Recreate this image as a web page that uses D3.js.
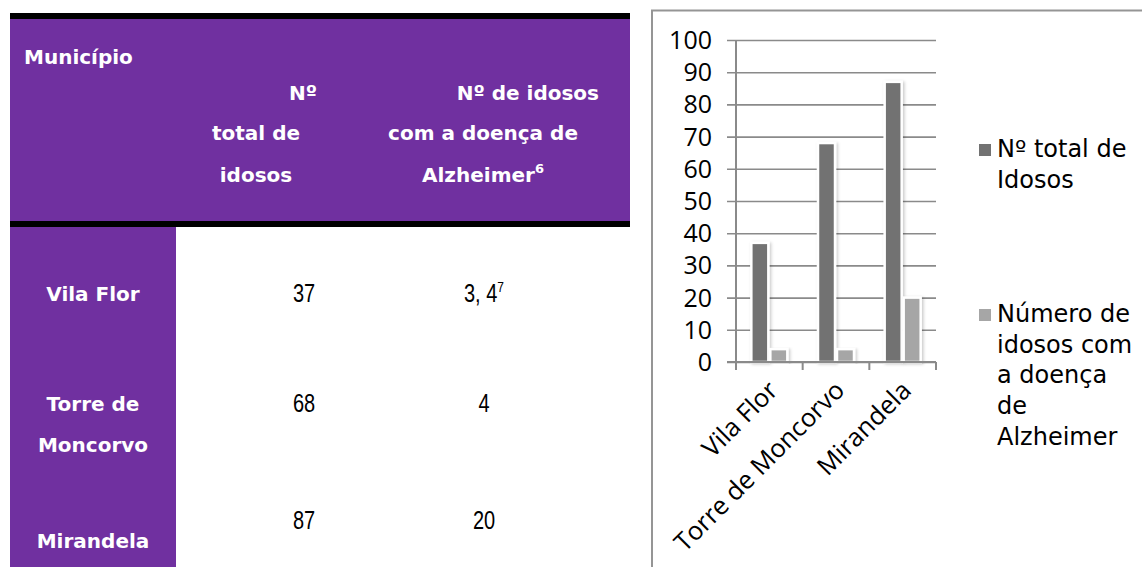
<!DOCTYPE html>
<html>
<head>
<meta charset="utf-8">
<script src="https://cdn.jsdelivr.net/npm/d3@7"></script>
<style>
  html, body { margin: 0; padding: 0; background: #fff; }
  svg { display: block; }
</style>
</head>
<body>
<svg id="page" width="1142" height="567"></svg>
<script>
// Municipalities and counts of elderly people
const municipios = ["Vila Flor", "Torre de Moncorvo", "Mirandela"];
const municipioLines = [["Vila Flor"], ["Torre de", "Moncorvo"], ["Mirandela"]];
const totalIdosos = [37, 68, 87];
const idososAlzheimer = [4, 4, 20];
const alzheimerText = ["3, 4", "4", "20"];
const alzheimerNote = ["7", "", ""];
const seriesNames = ["Nº total de Idosos", "Número de idosos com a doença de Alzheimer"];
const legendLines = [["Nº total de", "Idosos"], ["Número de", "idosos com", "a doença", "de", "Alzheimer"]];
const yTicks = [0, 10, 20, 30, 40, 50, 60, 70, 80, 90, 100];

const svg = d3.select("#page");
const PURPLE = "#7030a0";
const headFont = "'DejaVu Sans', Verdana, sans-serif";
const numFont = "'Liberation Sans', Arial, sans-serif";
const chartFont = "'Open Sans', 'Noto Sans', sans-serif";

// ---------- Table ----------
const table = svg.append("g");
table.append("rect").attr("x", 10).attr("y", 13).attr("width", 620).attr("height", 6).attr("fill", "#000");
table.append("rect").attr("x", 10).attr("y", 19).attr("width", 620).attr("height", 202).attr("fill", PURPLE);
table.append("rect").attr("x", 10).attr("y", 221).attr("width", 620).attr("height", 6).attr("fill", "#000");
table.append("rect").attr("x", 10).attr("y", 227).attr("width", 166).attr("height", 340).attr("fill", PURPLE);

const head = table.append("g")
  .attr("font-family", headFont).attr("font-weight", "bold")
  .attr("font-size", 20).attr("fill", "#fff");
head.append("text").attr("x", 24).attr("y", 64).text("Município");
head.append("text").attr("x", 317).attr("y", 100).attr("text-anchor", "end").text("Nº");
head.append("text").attr("x", 256).attr("y", 140).attr("text-anchor", "middle").text("total de");
head.append("text").attr("x", 256).attr("y", 182).attr("text-anchor", "middle").text("idosos");
head.append("text").attr("x", 599).attr("y", 100).attr("text-anchor", "end").text("Nº de idosos");
head.append("text").attr("x", 483).attr("y", 140).attr("text-anchor", "middle").text("com a doença de");
const alzHead = head.append("text").attr("x", 422).attr("y", 182);
alzHead.append("tspan").text("Alzheimer");
alzHead.append("tspan").attr("dy", -9).attr("font-size", 13).text("6");

// body rows: name lines and value baselines
const rowNameY = [[301], [411, 452], [548]];
const rowValueY = [302, 412, 529];

const names = table.append("g")
  .attr("font-family", headFont).attr("font-weight", "bold")
  .attr("font-size", 20).attr("fill", "#fff").attr("text-anchor", "middle");
municipioLines.forEach((lines, i) => {
  lines.forEach((ln, j) => {
    names.append("text").attr("x", 93).attr("y", rowNameY[i][j]).text(ln);
  });
});

// narrow numerals in the body cells
const vals = table.append("g")
  .attr("font-family", numFont).attr("font-size", 25).attr("fill", "#000");
totalIdosos.forEach((v, i) => {
  vals.append("text").attr("transform", `translate(304,${rowValueY[i]}) scale(0.8,1)`)
    .attr("text-anchor", "middle").text(v);
});
alzheimerText.forEach((t, i) => {
  const tx = vals.append("text").attr("transform", `translate(484,${rowValueY[i]}) scale(0.8,1)`)
    .attr("text-anchor", "middle");
  tx.append("tspan").text(t);
  if (alzheimerNote[i]) tx.append("tspan").attr("dy", -10).attr("font-size", 15).text(alzheimerNote[i]);
});

// ---------- Chart ----------
const chart = svg.append("g");
// chart area frame
chart.append("path")
  .attr("d", "M652,567 V10.5 H1142")
  .attr("fill", "none").attr("stroke", "#959595").attr("stroke-width", 2);

const plot = { left: 736, right: 936, top: 40, bottom: 362 };
const y = d3.scaleLinear().domain([0, 100]).range([plot.bottom, plot.top]);
const x0 = d3.scaleBand().domain(municipios).range([plot.left, plot.right]).padding(0);
const x1 = d3.scaleBand().domain(seriesNames).range([0, x0.bandwidth()])
  .paddingInner(0.105).paddingOuter(0.807);
const colors = d3.scaleOrdinal().domain(seriesNames).range(["#727272", "#a6a6a6"]);

// gridlines with left tick stubs
const yAxis = d3.axisLeft(y).tickValues(yTicks)
  .tickSize(-(plot.right - plot.left)).tickSizeOuter(0).tickPadding(24);
const gy = chart.append("g").attr("transform", `translate(${plot.left},0)`).call(yAxis);
gy.select(".domain").remove();
gy.selectAll(".tick line")
  .attr("x1", -9).attr("stroke", "#8a8a8a").attr("stroke-width", 1.6);
gy.selectAll(".tick text")
  .attr("font-family", chartFont).attr("font-size", 25).attr("fill", "#000")
  .attr("dy", "0.34em");

// shadow for bars
const defs = svg.append("defs");
const f = defs.append("filter").attr("id", "barShadow")
  .attr("x", "-50%").attr("y", "-10%").attr("width", "200%").attr("height", "120%");
f.append("feDropShadow").attr("dx", 1.5).attr("dy", 1).attr("stdDeviation", 1.6)
  .attr("flood-color", "#000").attr("flood-opacity", 0.22);

const rows = municipios.map((m, i) => ({ m, vals: [totalIdosos[i], idososAlzheimer[i]] }));
const groups = chart.append("g").selectAll("g").data(rows).join("g")
  .attr("transform", d => `translate(${x0(d.m)},0)`);
groups.selectAll("rect")
  .data(d => d.vals.map((v, k) => ({ s: seriesNames[k], v })))
  .join("rect")
  .attr("x", d => x1(d.s))
  .attr("y", d => y(d.v))
  .attr("width", x1.bandwidth())
  .attr("height", d => y(0) - y(d.v))
  .attr("fill", d => colors(d.s))
  .attr("stroke", "#fff").attr("stroke-width", 2.5)
  .attr("filter", "url(#barShadow)");

// y axis line and category axis
chart.append("line")
  .attr("x1", plot.left).attr("x2", plot.left)
  .attr("y1", plot.top).attr("y2", plot.bottom)
  .attr("stroke", "#8a8a8a").attr("stroke-width", 2);
const xAxis = d3.axisBottom(x0).tickSize(0).tickSizeOuter(0).tickFormat("");
const gx = chart.append("g").attr("transform", `translate(0,${plot.bottom})`).call(xAxis);
gx.select(".domain").attr("stroke", "#8a8a8a").attr("stroke-width", 2)
  .attr("d", `M${plot.left - 9},0H${plot.right}`);
// category boundary ticks
const bounds = municipios.map(m => x0(m)).concat([x0(municipios[municipios.length - 1]) + x0.bandwidth()]);
gx.selectAll(".bound").data(bounds).join("line").attr("class", "bound")
  .attr("x1", d => d).attr("x2", d => d).attr("y1", 0).attr("y2", 8)
  .attr("stroke", "#8a8a8a").attr("stroke-width", 2);
// rotated category labels
gx.selectAll(".cat").data(municipios).join("text").attr("class", "cat")
  .attr("transform", d => `translate(${x0(d) + x0.bandwidth() / 2 + 10},${30}) rotate(-45)`)
  .attr("text-anchor", "end")
  .attr("font-family", chartFont).attr("font-size", 25.5).attr("fill", "#000")
  .text(d => d);

// legend
const legendY = [157, 322];
const legend = chart.append("g").attr("font-family", headFont).attr("font-size", 24).attr("fill", "#000");
seriesNames.forEach((s, k) => {
  legend.append("rect").attr("x", 979).attr("y", legendY[k] - 13)
    .attr("width", 12).attr("height", 12).attr("fill", colors(s));
  const t = legend.append("text").attr("x", 997).attr("y", legendY[k]);
  legendLines[k].forEach((ln, j) => {
    t.append("tspan").attr("x", 997).attr("dy", j === 0 ? 0 : 30.7).text(ln);
  });
});
</script>
</body>
</html>
